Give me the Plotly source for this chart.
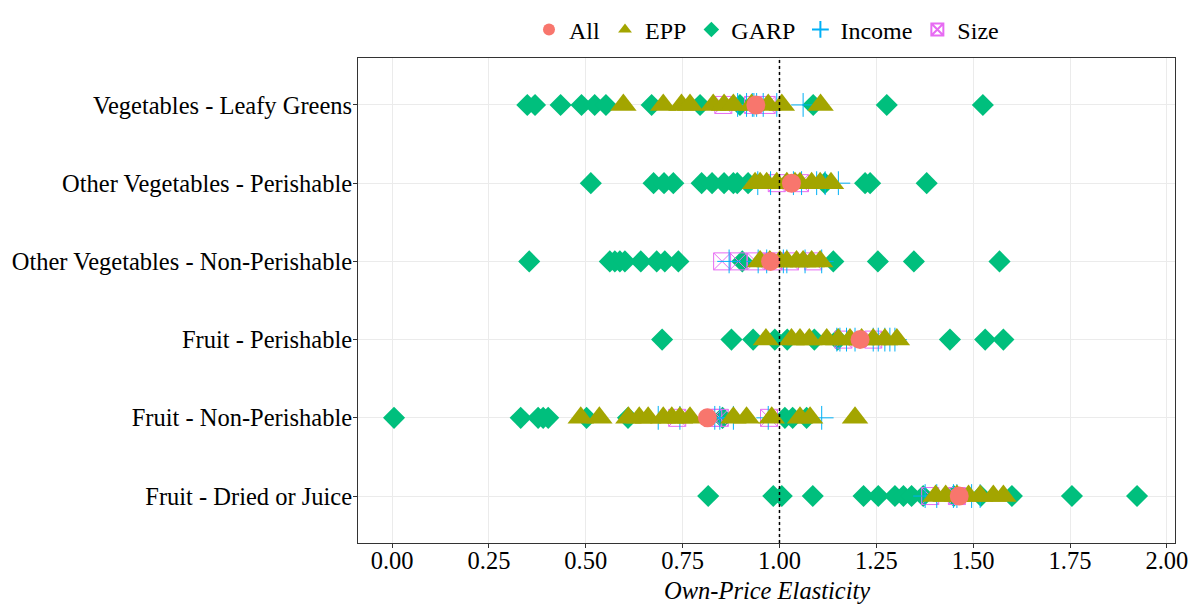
import plotly.graph_objects as go

CATEGORIES = [
    "Vegetables - Leafy Greens",
    "Other Vegetables - Perishable",
    "Other Vegetables - Non-Perishable",
    "Fruit - Perishable",
    "Fruit - Non-Perishable",
    "Fruit - Dried or Juice",
]

# Own-price elasticity estimates, one list per category (same order as CATEGORIES)
ALL = [[0.939], [1.031], [0.977], [1.208], [0.814], [1.464]]

EPP = [
    [0.597, 0.700, 0.747, 0.769, 0.829, 0.857, 0.881, 0.928, 0.971, 1.006, 1.106],
    [0.937, 0.950, 0.967, 0.993, 1.019, 1.040, 1.053, 1.083, 1.105, 1.133],
    [0.950, 0.975, 1.001, 1.019, 1.044, 1.061, 1.083, 1.105],
    [0.965, 1.031, 1.053, 1.077, 1.122, 1.152, 1.182, 1.212, 1.242, 1.272, 1.303],
    [0.487, 0.535, 0.610, 0.638, 0.661, 0.700, 0.722, 0.743, 0.769, 0.881, 0.915,
     0.980, 1.053, 1.079, 1.195],
    [1.403, 1.429, 1.458, 1.488, 1.518, 1.552, 1.578],
]

GARP = [
    [0.349, 0.369, 0.435, 0.489, 0.523, 0.552, 0.670, 0.795, 0.898, 1.087, 1.277, 1.525],
    [0.513, 0.675, 0.702, 0.726, 0.799, 0.826, 0.857, 0.881, 0.891, 0.919, 1.117,
     1.221, 1.234, 1.380],
    [0.354, 0.562, 0.575, 0.588, 0.601, 0.642, 0.683, 0.704, 0.739, 0.904, 1.139,
     1.254, 1.347, 1.568],
    [0.697, 0.876, 0.932, 0.988, 1.020, 1.090, 1.150, 1.440, 1.531, 1.578],
    [0.005, 0.332, 0.377, 0.390, 0.403, 0.502, 0.609, 0.853, 1.014, 1.034, 1.070],
    [0.816, 0.984, 1.006, 1.086, 1.217, 1.255, 1.298, 1.320, 1.341, 1.371, 1.450,
     1.520, 1.600, 1.755, 1.923],
]

INCOME = [
    [0.892, 0.915, 0.930, 0.934, 0.941, 0.958, 0.993, 1.061],
    [0.944, 0.977, 1.036, 1.057, 1.096, 1.118, 1.152],
    [0.870, 0.945, 0.967, 1.010, 1.019, 1.066, 1.109],
    [1.148, 1.156, 1.173, 1.195, 1.242, 1.255, 1.272, 1.285, 1.298],
    [0.687, 0.743, 0.833, 0.846, 0.881, 0.971, 1.109],
    [1.376, 1.406, 1.449, 1.458, 1.496, 1.518],
]

SIZE = [
    [0.855, 0.932, 0.967],
    [0.993, 1.053],
    [0.852, 0.894, 0.939, 0.984, 1.027, 1.087],
    [1.165, 1.242],
    [0.736, 0.829, 0.846, 0.973],
    [1.389, 1.458],
]

X_TICKS = [0.00, 0.25, 0.50, 0.75, 1.00, 1.25, 1.50, 1.75, 2.00]
REF_LINE = 1.0
X_TITLE = "Own-Price Elasticity"

FONT = "Liberation Serif, Times New Roman, serif"


def flatten(groups):
    xs, ys = [], []
    for cat, vals in zip(CATEGORIES, groups):
        xs.extend(vals)
        ys.extend([cat] * len(vals))
    return xs, ys


fig = go.Figure()

# draw order: GARP, Size, Income, EPP, All (All on top); legend order via legendrank
series = [
    ("GARP", GARP, dict(symbol="diamond", size=17, color="#00BF7D"), 3),
    ("Size", SIZE, dict(symbol="square-x-open", size=17, color="#E76BF3",
                        line=dict(width=1, color="#E76BF3")), 5),
    ("Income", INCOME, dict(symbol="cross-thin-open", size=17, color="#00B0F6",
                            line=dict(width=1, color="#00B0F6")), 4),
    ("EPP", EPP, dict(symbol="triangle-up", size=23, color="#A3A500"), 2),
    ("All", ALL, dict(symbol="circle", size=19, color="#F8766D"), 1),
]

for name, data, marker, rank in series:
    xs, ys = flatten(data)
    fig.add_trace(go.Scatter(
        x=xs, y=ys, mode="markers", name=name, marker=marker,
        legendrank=rank, hoverinfo="x+name",
    ))

fig.add_vline(x=REF_LINE, line=dict(color="black", width=1.5, dash="dot"), layer="above")

fig.add_annotation(
    text=f"<i>{X_TITLE}</i>", xref="paper", yref="paper", x=0.5, y=-0.097,
    xanchor="center", yanchor="middle", showarrow=False,
    font=dict(family=FONT, size=24.5, color="black"),
)

fig.update_layout(
    width=1189, height=604,
    margin=dict(l=358, r=14, t=58, b=61, autoexpand=False),
    paper_bgcolor="white", plot_bgcolor="white",
    font=dict(family=FONT, size=24, color="black"),
    showlegend=True,
    legend=dict(
        orientation="h", x=0.5, xanchor="center", y=1.058, yanchor="middle",
        font=dict(family=FONT, size=24, color="black"),
        itemsizing="constant", traceorder="normal",
    ),
    xaxis=dict(
        range=[-0.088, 2.021], tickvals=X_TICKS,
        ticktext=[f"{v:.2f}" for v in X_TICKS],
        showgrid=True, gridcolor="#EBEBEB", gridwidth=1, automargin=False,
        zeroline=False, showline=True, linecolor="#333333", linewidth=1, mirror=True,
        ticks="outside", ticklen=4, tickcolor="#333333", ticklabelstandoff=-8,
        tickfont=dict(family=FONT, size=24.5, color="black"),
    ),
    yaxis=dict(
        type="category", categoryorder="array", categoryarray=CATEGORIES[::-1],
        range=[-0.6, 5.6], automargin=False,
        showgrid=True, gridcolor="#EBEBEB", gridwidth=1,
        zeroline=False, showline=True, linecolor="#333333", linewidth=1, mirror=True,
        ticks="outside", ticklen=4, tickcolor="#333333", ticklabelstandoff=-4,
        tickfont=dict(family=FONT, size=24.5, color="black"),
    ),
)

fig.write_html("out.html", config={"displayModeBar": False},
               post_script="document.body.style.margin='0';")
